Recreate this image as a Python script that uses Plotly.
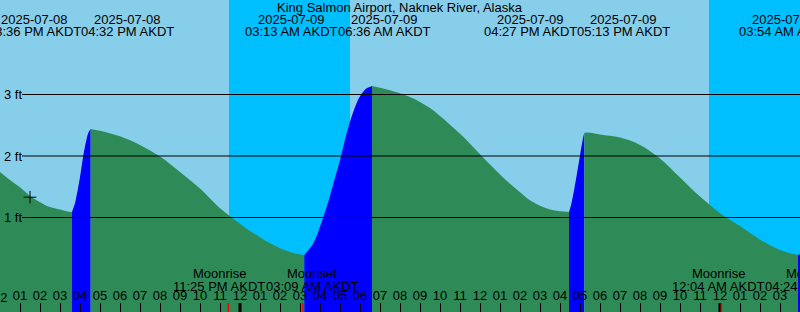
import pandas as pd
import plotly.graph_objects as go

STATION = "King Salmon Airport, Naknek River, Alaska"
TZ = "AKDT"

range_start = "2025-07-08 12:00"
range_end = "2025-07-10 04:00"

# tide curve (feet)
tide_times = [
    "2025-07-08 12:00", "2025-07-08 12:30", "2025-07-08 13:00", "2025-07-08 13:30",
    "2025-07-08 14:00", "2025-07-08 14:30", "2025-07-08 15:00", "2025-07-08 15:30",
    "2025-07-08 15:36",
    "2025-07-08 15:40", "2025-07-08 15:45", "2025-07-08 15:50", "2025-07-08 16:00",
    "2025-07-08 16:10", "2025-07-08 16:18", "2025-07-08 16:25", "2025-07-08 16:32",
    "2025-07-08 17:00", "2025-07-08 18:00", "2025-07-08 19:00", "2025-07-08 20:00",
    "2025-07-08 21:00", "2025-07-08 22:00", "2025-07-08 22:30", "2025-07-08 23:00",
    "2025-07-08 23:30", "2025-07-09 00:00", "2025-07-09 00:30", "2025-07-09 01:00",
    "2025-07-09 01:30", "2025-07-09 02:00", "2025-07-09 02:30", "2025-07-09 03:00",
    "2025-07-09 03:13",
    "2025-07-09 03:40", "2025-07-09 04:00", "2025-07-09 04:20", "2025-07-09 04:40",
    "2025-07-09 05:00", "2025-07-09 05:20", "2025-07-09 05:40", "2025-07-09 06:00",
    "2025-07-09 06:20", "2025-07-09 06:36",
    "2025-07-09 07:00", "2025-07-09 07:30", "2025-07-09 08:00", "2025-07-09 08:30",
    "2025-07-09 09:00", "2025-07-09 09:30", "2025-07-09 10:00", "2025-07-09 10:30",
    "2025-07-09 11:00", "2025-07-09 11:30", "2025-07-09 12:00", "2025-07-09 12:30",
    "2025-07-09 13:00", "2025-07-09 13:30", "2025-07-09 14:00", "2025-07-09 14:30",
    "2025-07-09 15:00", "2025-07-09 15:30", "2025-07-09 16:00", "2025-07-09 16:27",
    "2025-07-09 16:33", "2025-07-09 16:42", "2025-07-09 16:51", "2025-07-09 17:00",
    "2025-07-09 17:09", "2025-07-09 17:13",
    "2025-07-09 17:30", "2025-07-09 18:00", "2025-07-09 19:00", "2025-07-09 20:00",
    "2025-07-09 21:00", "2025-07-09 22:00", "2025-07-09 23:00", "2025-07-10 00:00",
    "2025-07-10 01:00", "2025-07-10 02:00", "2025-07-10 03:00", "2025-07-10 03:54",
    "2025-07-10 04:00", "2025-07-10 04:10",
]
tide_ft = [
    1.74, 1.61, 1.49, 1.35,
    1.25, 1.17, 1.13, 1.09,
    1.09,
    1.15, 1.23, 1.36, 1.66,
    2.01, 2.23, 2.38, 2.44,
    2.41, 2.32, 2.18, 1.99,
    1.74, 1.47, 1.31, 1.15,
    1.02, 0.90, 0.78, 0.68,
    0.58, 0.50, 0.44, 0.40,
    0.39,
    0.58, 0.85, 1.17, 1.55,
    1.93, 2.37, 2.72, 2.97,
    3.10, 3.14,
    3.11, 3.07, 3.02, 2.96,
    2.88, 2.78, 2.65, 2.51,
    2.36, 2.20, 2.03, 1.86,
    1.70, 1.55, 1.41, 1.28,
    1.19, 1.13, 1.10, 1.09,
    1.20, 1.44, 1.72, 2.01,
    2.29, 2.38,
    2.38, 2.35, 2.30, 2.18,
    1.96, 1.65, 1.34, 1.07,
    0.86, 0.64, 0.47, 0.39,
    0.41, 0.50,
]

# high / low tide events
event_times = ["2025-07-08 15:36", "2025-07-08 16:32", "2025-07-09 03:13", "2025-07-09 06:36",
               "2025-07-09 16:27", "2025-07-09 17:13", "2025-07-10 03:54", "2025-07-10 07:18"]
event_kinds = ["low", "high", "low", "high", "low", "high", "low", "high"]

# moon events
moon_times = ["2025-07-08 23:25", "2025-07-09 03:09", "2025-07-10 00:04", "2025-07-10 04:24"]
moon_kinds = ["Moonrise", "Moonset", "Moonrise", "Moonset"]

# sun
sunset_times = ["2025-07-08 23:27", "2025-07-09 23:27"]
sunrise_times = ["2025-07-09 05:30", "2025-07-10 05:30"]

midnights = ["2025-07-09 00:00", "2025-07-10 00:00"]

now_time = "2025-07-08 13:30"
now_ft = 1.33

y_ticks = [1, 2, 3]
y_labels = ["1 ft", "2 ft", "3 ft"]

# ---------------------------------------------------------------
W, H = 800, 312
PX_PER_FT = 61.5
ZERO_PX = 279.0
Y0 = -(H - ZERO_PX) / PX_PER_FT
Y1 = ZERO_PX / PX_PER_FT

DAY = "#87CEEB"
NIGHT = "#00BFFF"
EBB = "#2E8B57"
FLOOD = "#0000FF"
FONT = "Liberation Sans"
FS = 13

t0 = pd.Timestamp(range_start)
t1 = pd.Timestamp(range_end)
span = (t1 - t0).total_seconds()


def frac(t):
    return (pd.Timestamp(t) - t0).total_seconds() / span


T = pd.to_datetime(tide_times)
V = pd.Series(tide_ft, index=T)
EV = pd.to_datetime(event_times)

fig = go.Figure()

bounds = [T.min()] + [e for e in EV if T.min() < e < T.max()] + [T.max()]
for a, b in zip(bounds[:-1], bounds[1:]):
    seg = V[(V.index >= a) & (V.index <= b)]
    nxt = [k for e, k in zip(EV, event_kinds) if e >= b]
    kind = nxt[0] if nxt else "low"
    color = FLOOD if kind == "high" else EBB
    xs = list(seg.index)
    fig.add_trace(go.Scatter(x=xs, y=[Y0] * len(xs), mode="lines", line=dict(width=0),
                             hoverinfo="skip", showlegend=False))
    fig.add_trace(go.Scatter(x=xs, y=list(seg.values), mode="lines",
                             line=dict(width=0, shape="spline", smoothing=1.0, simplify=False),
                             fill="tonexty", fillcolor=color, hoverinfo="skip", showlegend=False))

fig.add_trace(go.Scatter(x=[now_time], y=[now_ft], mode="markers",
                         marker=dict(symbol="cross-thin", size=9, line=dict(width=1, color="black")),
                         showlegend=False, hoverinfo="skip"))

shapes = []
for s in sunset_times:
    rises = [r for r in sunrise_times if pd.Timestamp(r) > pd.Timestamp(s)]
    e = rises[0] if rises else range_end
    shapes.append(dict(type="rect", xref="x", yref="paper", x0=s, x1=e, y0=0, y1=1,
                       fillcolor=NIGHT, line=dict(width=0), layer="below"))
for v in y_ticks:
    shapes.append(dict(type="line", xref="paper", yref="y", x0=22 / W, x1=1, y0=v, y1=v,
                       line=dict(color="black", width=1), layer="above"))
for m in midnights:
    shapes.append(dict(type="line", xref="x", yref="paper", x0=m, x1=m, y0=0, y1=9 / H,
                       line=dict(color="black", width=3), layer="above"))
for m in moon_times:
    shapes.append(dict(type="line", xref="x", yref="paper", x0=m, x1=m, y0=0, y1=9 / H,
                       line=dict(color="red", width=1.5), layer="above"))


def spread(times, width_px=93.0):
    pos = [frac(t) * W for t in times]
    out = list(pos)
    for i in range(0, len(out) - 1):
        if out[i + 1] - out[i] < width_px:
            mid = (pos[i] + pos[i + 1]) / 2
            out[i] = mid - width_px / 2
            out[i + 1] = mid + width_px / 2
    return out


annotations = []


def ann(text, xpx, ypx, anchor="center"):
    annotations.append(dict(text=text, xref="paper", yref="paper", x=xpx / W, y=1 - ypx / H,
                            xanchor=anchor, yanchor="middle", showarrow=False,
                            font=dict(family=FONT, size=FS, color="black")))


ann(STATION, W / 2, 7.5)
for t, xp in zip(event_times, spread(event_times)):
    ts = pd.Timestamp(t)
    ann(ts.strftime("%Y-%m-%d"), xp, 19.5)
    ann(ts.strftime("%I:%M %p ") + TZ, xp, 31.5)
for t, k, xp in zip(moon_times, moon_kinds, spread(moon_times)):
    ts = pd.Timestamp(t)
    ann(k, xp, 273.5)
    ann(ts.strftime("%I:%M %p ") + TZ, xp, 286)
for v, lab in zip(y_ticks, y_labels):
    ann(lab, 2, ZERO_PX - v * PX_PER_FT, anchor="left")
# hour label at the very left edge (half cut off, as in the original)
ann(t0.strftime("%I"), 0, 297.5)

fig.update_layout(
    width=W, height=H, margin=dict(l=0, r=0, t=0, b=0),
    paper_bgcolor=DAY, plot_bgcolor=DAY,
    shapes=shapes, annotations=annotations, showlegend=False,
    font=dict(family=FONT, size=FS, color="black"),
    xaxis=dict(type="date", range=[range_start, range_end], showgrid=False, zeroline=False,
               showline=False, ticks="inside", ticklen=9, tickwidth=1, tickcolor="black",
               tick0="2025-07-08 00:00", dtick=3600000, tickformat="%I",
               ticklabelposition="inside", tickfont=dict(family=FONT, size=FS, color="black")),
    yaxis=dict(range=[Y0, Y1], showgrid=False, zeroline=False, showline=False,
               showticklabels=False, ticks=""),
)

fig.write_html("out.html")
